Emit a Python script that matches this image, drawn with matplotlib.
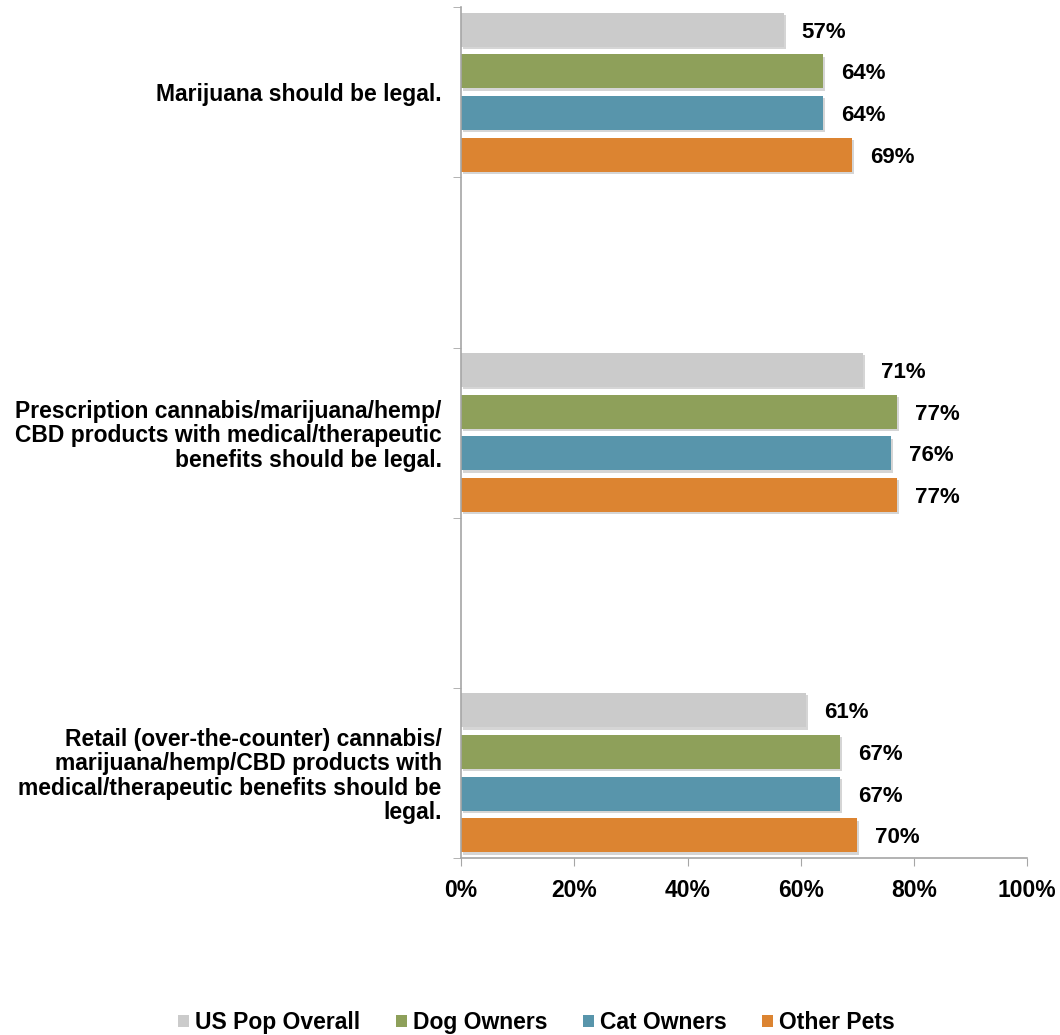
import numpy as np
import matplotlib
matplotlib.use("Agg")
import matplotlib.pyplot as plt
import matplotlib.patheffects as pe
from matplotlib.patches import Patch

plt.rcParams['font.family'] = ['Liberation Sans', 'DejaVu Sans']
plt.rcParams['font.weight'] = 'bold'

statements = ["Marijuana should be legal.",
              "Prescription cannabis/marijuana/hemp/\nCBD products with medical/therapeutic\nbenefits should be legal.",
              "Retail (over-the-counter) cannabis/\nmarijuana/hemp/CBD products with\nmedical/therapeutic benefits should be\nlegal."]
series = ["US Pop Overall", "Dog Owners", "Cat Owners", "Other Pets"]
us_pop = [57, 71, 61]
dog_owners = [64, 77, 67]
cat_owners = [64, 76, 67]
other_pets = [69, 77, 70]
values = [us_pop, dog_owners, cat_owners, other_pets]
colors = ["#cbcbcb", "#8ea05a", "#5895ab", "#dc8431"]
xticks = [0, 20, 40, 60, 80, 100]

fig = plt.figure(figsize=(10.6, 10.35), dpi=100)
ax = fig.add_axes([0.435, 0.171, 0.534, 0.822])

# statements sit in every other slot, with empty slots between them
pos = np.arange(len(statements)) * 2
step = 0.245
height = 0.2
shadow = [pe.SimplePatchShadow(offset=(1.5, -1.5), shadow_rgbFace='#888888', alpha=0.35), pe.Normal()]

for k, (name, vals) in enumerate(zip(series, values)):
    ys = pos + (k - 1.5) * step
    bars = ax.barh(ys, vals, height=height, color=colors[k], label=name)
    for b in bars:
        b.set_path_effects(shadow)
    for y, v in zip(ys, vals):
        ax.annotate("%d%%" % v, (v, y), xytext=(13, 0), textcoords='offset points',
                    va='center_baseline', ha='left', fontsize=16, fontweight='bold')

ax.set_xlim(0, 100)
ax.set_ylim(pos[-1] + 0.5, -0.5)
ax.set_xticks(xticks)
ax.set_xticklabels(["%d%%" % x for x in xticks], fontsize=16.5, fontweight='bold')

# tick marks on slot boundaries, labels in the slot centres
ax.set_yticks(np.arange(-0.5, pos[-1] + 1), minor=True)
ax.set_yticks(pos)
ax.set_yticklabels(statements, fontsize=16.5, fontweight='bold', linespacing=1.07)
ax.tick_params(axis='y', which='major', length=0, pad=14)
ax.tick_params(axis='y', which='minor', length=6, color='#a6a6a6', direction='out')
ax.tick_params(axis='x', length=6, color='#a6a6a6', direction='out', pad=9)

for s in ["top", "right"]:
    ax.spines[s].set_visible(False)
ax.spines["left"].set_color('#a6a6a6')
ax.spines["bottom"].set_color('#a6a6a6')
ax.spines["left"].set_linewidth(1.2)
ax.spines["bottom"].set_linewidth(1.2)

handles = [Patch(facecolor=c, label=n) for c, n in zip(colors, series)]
fig.legend(handles=handles, loc='center', bbox_to_anchor=(0.506, 0.012), ncol=4,
           frameon=False, handlelength=0.48, handleheight=0.48,
           handletextpad=0.26, columnspacing=1.55, prop={'weight': 'bold', 'size': 16.5})

plt.savefig("out.png", dpi=100)
